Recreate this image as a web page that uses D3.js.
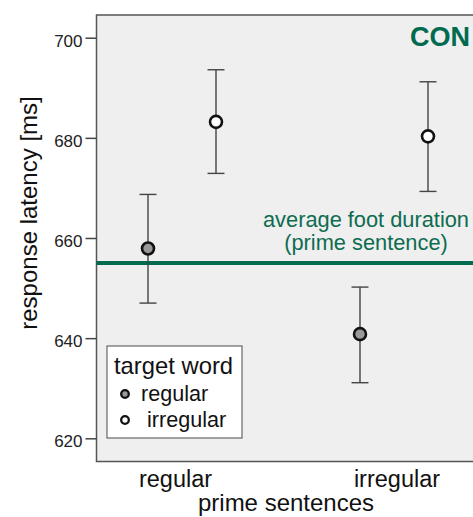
<!DOCTYPE html>
<html><head><meta charset="utf-8">
<script src="https://cdn.jsdelivr.net/npm/d3@7"></script>
<style>body{margin:0;background:#fff;overflow:hidden}svg{display:block;font-family:"Liberation Sans",Arial,sans-serif}</style>
</head><body><svg id="c" width="473" height="517"></svg>
<script>
const primeCategories = ["regular", "irregular"];
const targetSeries = ["regular", "irregular"];
const meanRegular = [657.9, 640.8];
const lowRegular = [647.0, 631.1];
const highRegular = [668.7, 650.2];
const meanIrregular = [683.2, 680.3];
const lowIrregular = [672.9, 669.3];
const highIrregular = [693.6, 691.2];
const yTicks = [620, 640, 660, 680, 700];
const footDuration = 655.0;

(function () {
const svg = d3.select("#c");
const pLeft = 96.5, pTop = 15, pBottom = 461.5, pRight = 480;
const y = d3.scaleLinear().domain([620, 700]).range([438.3, 37.7]);
const x = d3.scalePoint().domain(primeCategories).range([182, 394]);
const dodge = d3.scalePoint().domain(targetSeries).range([-34, 34]);
const green = "#006b4f";

svg.append("rect").attr("x", pLeft).attr("y", pTop).attr("width", pRight - pLeft).attr("height", pBottom - pTop)
  .attr("fill", "#efefef").attr("stroke", "#555").attr("stroke-width", 1.5);

const yAxis = d3.axisLeft(y).tickValues(yTicks).tickSize(11).tickPadding(3);
const ga = svg.append("g").attr("transform", `translate(${pLeft},0)`).call(yAxis);
ga.select(".domain").remove();
ga.selectAll(".tick line").attr("stroke", "#444").attr("stroke-width", 1.5);
ga.selectAll(".tick text").attr("font-size", 17).attr("fill", "#222").attr("dy", "0.49em")
  .attr("font-family", "Liberation Sans, Arial, sans-serif");

svg.append("line").attr("x1", pLeft).attr("x2", pRight).attr("y1", y(footDuration)).attr("y2", y(footDuration))
  .attr("stroke", green).attr("stroke-width", 4);

svg.append("text").attr("x", 366).attr("y", 227).attr("text-anchor", "middle").attr("font-size", 21.8).attr("fill", "#0d6c50").text("average foot duration");
svg.append("text").attr("x", 366).attr("y", 250).attr("text-anchor", "middle").attr("font-size", 21.8).attr("fill", "#0d6c50").text("(prime sentence)");

svg.append("text").attr("x", 410).attr("y", 46).attr("font-size", 27).attr("font-weight", "bold").attr("fill", green).text("CON");

const series = [
  {name: targetSeries[0], mean: meanRegular, low: lowRegular, high: highRegular, fill: "#999999"},
  {name: targetSeries[1], mean: meanIrregular, low: lowIrregular, high: highIrregular, fill: "#ffffff"}
];
series.forEach(s => {
  primeCategories.forEach((c, i) => {
    const cx = x(c) + dodge(s.name);
    const g = svg.append("g");
    g.append("line").attr("x1", cx).attr("x2", cx).attr("y1", y(s.low[i])).attr("y2", y(s.high[i])).attr("stroke", "#444").attr("stroke-width", 1.4);
    [s.low[i], s.high[i]].forEach(v => g.append("line").attr("x1", cx - 8.5).attr("x2", cx + 8.5).attr("y1", y(v)).attr("y2", y(v)).attr("stroke", "#444").attr("stroke-width", 1.4));
    g.append("circle").attr("cx", cx).attr("cy", y(s.mean[i])).attr("r", 6).attr("fill", s.fill).attr("stroke", "#111").attr("stroke-width", 2.6);
  });
});

const labelShift = [-6.5, 3];
primeCategories.forEach((c, i) => {
  svg.append("text").attr("x", x(c) + labelShift[i]).attr("y", 487).attr("text-anchor", "middle").attr("font-size", 23.5).attr("fill", "#111").text(c);
});
svg.append("text").attr("x", 286).attr("y", 511).attr("text-anchor", "middle").attr("font-size", 24).attr("fill", "#111").text("prime sentences");
svg.append("text").attr("transform", "translate(37,213) rotate(-90)").attr("text-anchor", "middle").attr("font-size", 24).attr("fill", "#111").text("response latency [ms]");

const lg = svg.append("g");
lg.append("rect").attr("x", 107).attr("y", 346).attr("width", 135).attr("height", 92).attr("fill", "#fff").attr("stroke", "#666").attr("stroke-width", 1.2);
lg.append("text").attr("x", 114).attr("y", 374).attr("font-size", 23.8).attr("fill", "#111").text("target word");
series.forEach((s, i) => {
  const ly = 394 + i * 26;
  lg.append("circle").attr("cx", 125).attr("cy", ly).attr("r", 3.8).attr("fill", s.fill).attr("stroke", "#111").attr("stroke-width", 2.3);
  lg.append("text").attr("x", i === 0 ? 141 : 147).attr("y", ly + 7).attr("font-size", 21.6).attr("fill", "#111").text(s.name);
});
})();
</script></body></html>
